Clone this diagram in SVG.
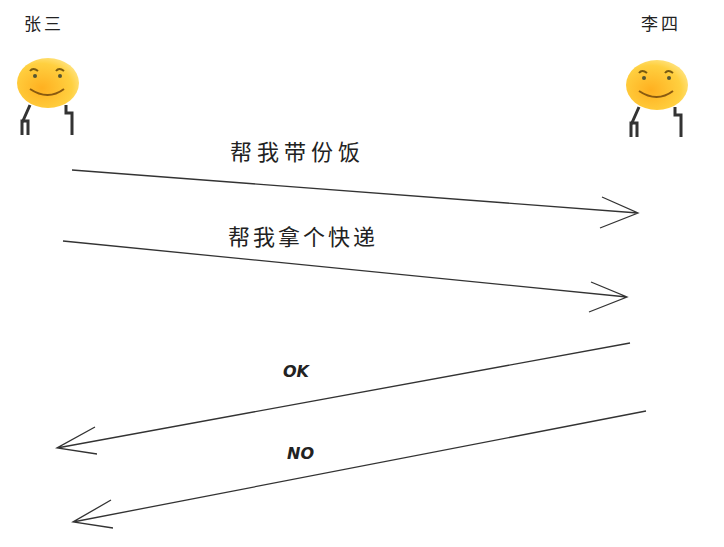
<svg xmlns="http://www.w3.org/2000/svg" width="724" height="547" viewBox="0 0 724 547">
<defs>
<radialGradient id="fg" cx="0.4" cy="0.6" r="0.7"><stop offset="0" stop-color="#ffb020"/><stop offset="0.7" stop-color="#ffd040"/><stop offset="1" stop-color="#ffe890"/></radialGradient>
<style>
.l{stroke:#333;stroke-width:1.3;fill:none}
.t{font-family:"Noto Sans CJK SC","Noto Sans",sans-serif;fill:#222}
.s{font-family:"Comic Sans MS","DejaVu Sans",sans-serif;font-style:italic;font-weight:bold;font-size:16px;fill:#222}
.arm{stroke:#333;stroke-width:3;fill:none}
</style>
<g id="face">
<ellipse cx="0" cy="0" rx="31" ry="25" fill="url(#fg)"/>
<path d="M-18,-12 q3,-4 8,0 M8,-12 q3,-4 8,0" stroke="#7a5a10" stroke-width="2" fill="none"/>
<circle cx="-13" cy="-7" r="2" fill="#553"/><circle cx="12" cy="-7" r="2" fill="#553"/>
<path d="M-18,6 q18,12 34,0" stroke="#8a5a10" stroke-width="2" fill="none"/>
<path class="arm" d="M-18,22 l-8,18 M-26,52 l0,-14 l6,0 l0,14 M18,22 l0,8 l6,0 l0,22"/>
</g>
</defs>
<rect width="724" height="547" fill="#fff"/>
<g id="zhangsan"><text class="t" x="24" y="30" font-size="17" letter-spacing="3">张三</text><use href="#face" x="48" y="83"/></g>
<g id="lisi"><text class="t" x="641" y="30" font-size="17" letter-spacing="3">李四</text><use href="#face" x="657" y="85"/></g>
<g id="connectors">
<path class="l" d="M72,170 L638,213 M602,197 L638,213 L600,228"/>
<path class="l" d="M63,241 L627,297 M591,282 L627,297 L589,312"/>
<path class="l" d="M630,343 L57,448 M95,427 L57,448 L97,454"/>
<path class="l" d="M646,411 L73,522 M111,500 L73,522 L113,528"/>
</g>
<g id="labels">
<text class="t" x="230" y="160" font-size="22" letter-spacing="5">帮我带份饭</text>
<text class="t" x="228" y="245" font-size="22" letter-spacing="3">帮我拿个快递</text>
<text class="s" x="283" y="377">OK</text>
<text class="s" x="287" y="459">NO</text>
</g>
</svg>
